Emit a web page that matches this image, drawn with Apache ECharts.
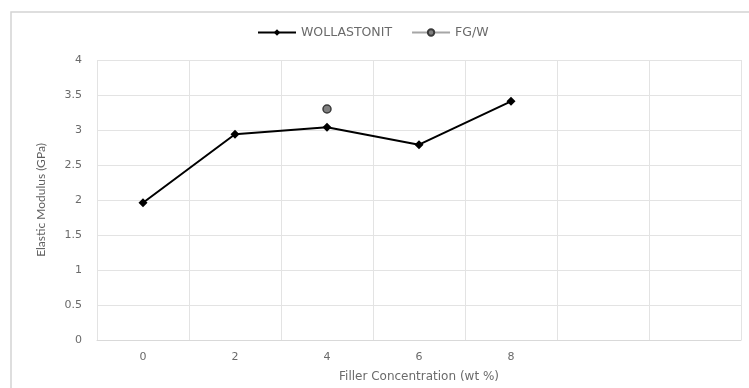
<!DOCTYPE html>
<html><head><meta charset="utf-8">
<script src="https://cdn.jsdelivr.net/npm/echarts@6/dist/echarts.min.js"></script>
<style>html,body{margin:0;padding:0;background:#fff}#c{width:749px;height:388px}</style>
</head><body><div id="c"></div>
<script>
var categories = ['0', '2', '4', '6', '8', '', ''];
var wollastonit = [1.96, 2.94, 3.04, 2.79, 3.41];
var fgw = [null, null, 3.30, null, null];
var yTicks = { min: 0, max: 4, interval: 0.5 };
var xName = 'Filler Concentration (wt %)';
var yName = 'Elastic Modulus (GPa)';

var wide = '"DejaVu Sans", sans-serif';
var font = 'Lato, "Open Sans", sans-serif';
var chart = echarts.init(document.getElementById('c'), null, { renderer: 'canvas' });
chart.setOption({
  animation: false,
  textStyle: { fontFamily: wide },
  graphic: [{
    type: 'rect', shape: { x: 11, y: 12, width: 800, height: 420 },
    style: { fill: 'none', stroke: '#d4d4d4', lineWidth: 1.5 }, z: -1
  }],
  legend: {
    left: 252, top: 21, itemGap: 19, itemWidth: 38, itemHeight: 8,
    textStyle: { color: '#6a6a6a', fontSize: 12.5, fontFamily: wide },
    data: ['WOLLASTONIT', 'FG/W']
  },
  grid: { left: 97, right: 8, top: 60, bottom: 48, containLabel: false },
  xAxis: {
    type: 'category', data: categories, boundaryGap: true,
    name: xName, nameLocation: 'middle', nameGap: 31,
    nameTextStyle: { color: '#6a6a6a', fontSize: 12, fontFamily: wide },
    axisLine: { lineStyle: { color: '#d9d9d9' } },
    axisTick: { show: false },
    axisLabel: { color: '#6a6a6a', fontSize: 11, margin: 12, interval: 0, fontFamily: wide },
    splitLine: { show: true, interval: 0, lineStyle: { color: '#e3e3e3' } }
  },
  yAxis: {
    type: 'value', min: yTicks.min, max: yTicks.max, interval: yTicks.interval,
    name: yName, nameLocation: 'middle', nameGap: 50, nameRotate: 90,
    nameTextStyle: { color: '#5e5e5e', fontSize: 12, fontFamily: font },
    axisLine: { show: false }, axisTick: { show: false },
    axisLabel: { color: '#6a6a6a', fontSize: 11, margin: 15, fontFamily: wide },
    splitLine: { lineStyle: { color: '#e3e3e3' } }
  },
  series: [{
    name: 'WOLLASTONIT', type: 'line', data: wollastonit,
    symbol: 'diamond', symbolSize: 9,
    lineStyle: { color: '#000', width: 2 },
    itemStyle: { color: '#000' }
  }, {
    name: 'FG/W', type: 'line', data: fgw,
    symbol: 'circle', symbolSize: 8, connectNulls: false,
    lineStyle: { color: '#a6a6a6', width: 1.5 },
    itemStyle: { color: '#808080', borderColor: '#3a3a3a', borderWidth: 1.5 }
  }]
});
</script></body></html>
